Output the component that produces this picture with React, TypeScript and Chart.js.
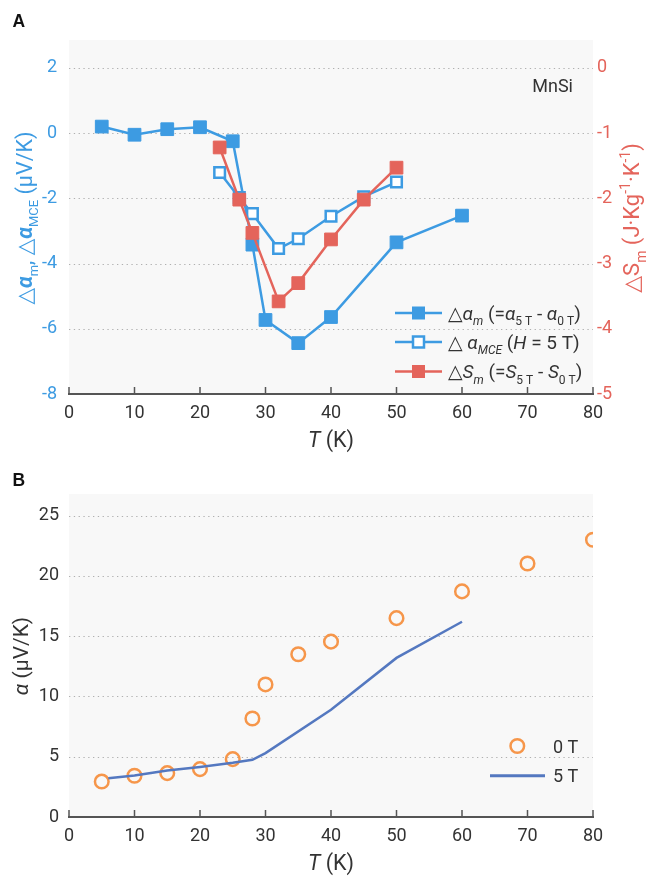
import React, { useEffect, useRef } from 'react';
import { Chart, registerables } from 'chart.js';
Chart.register(...registerables);

const FONT = 'Roboto, "DejaVu Sans", sans-serif';
const BLUE = '#3d9be2';
const RED = '#e4645b';
const ORANGE = '#f6964a';
const LINEB = '#5478c0';
const TXT = '#333333';
const BG = '#f8f8f8';

// ---- Panel A data ----
const amT = [5, 10, 15, 20, 25, 28, 30, 35, 40, 50, 60];
const amVal = [0.2, -0.05, 0.12, 0.18, -0.25, -3.42, -5.73, -6.44, -5.64, -3.35, -2.53];
const mceT = [23, 26, 28, 32, 35, 40, 45, 50];
const mceVal = [-1.21, -1.98, -2.47, -3.54, -3.24, -2.55, -1.95, -1.5];
const smT = [23, 26, 28, 32, 35, 40, 45, 50];
const smVal = [-1.22, -2.02, -2.53, -3.58, -3.3, -2.63, -2.02, -1.53];

const xTicks = [0, 10, 20, 30, 40, 50, 60, 70, 80];
const leftTicksA = [-8, -6, -4, -2, 0, 2];
const rightTicksA = [-5, -4, -3, -2, -1, 0];
const LEFT_MIN = -8;
const LEFT_MAX = 2.855;
const RIGHT_MIN = -5;
const RIGHT_MAX = RIGHT_MIN + (LEFT_MAX - LEFT_MIN) / 2;

// ---- Panel B data ----
const b0T = [5, 10, 15, 20, 25, 28, 30, 35, 40, 50, 60, 70, 80];
const b0Val = [2.94, 3.42, 3.64, 3.97, 4.8, 8.17, 11.0, 13.5, 14.55, 16.5, 18.72, 21.03, 23.0];
const b5T = [6, 10, 15, 20, 25, 28, 30, 40, 50, 60];
const b5Val = [3.22, 3.45, 3.85, 4.15, 4.5, 4.75, 5.3, 8.9, 13.2, 16.2];
const yTicksB = [0, 5, 10, 15, 20, 25];
const B_MAX = 26.8;

type Seg = { t: string; italic?: boolean; bold?: boolean; sub?: boolean; sup?: boolean };

function fontStr(s: Seg, size: number, family = FONT) {
  return `${s.italic ? 'italic ' : ''}${s.bold ? 'bold ' : ''}${size}px ${family}`;
}

function drawRich(ctx: CanvasRenderingContext2D, segs: Seg[], x: number, y: number, align: string, base: number, color: string) {
  const items = segs.map((s) => {
    const size = s.sub || s.sup ? Math.round(base * 0.62) : base;
    ctx.font = fontStr(s, size);
    return { s, size, w: ctx.measureText(s.t).width };
  });
  const total = items.reduce((a, b) => a + b.w, 0);
  let cx = align === 'center' ? x - total / 2 : align === 'right' ? x - total : x;
  ctx.fillStyle = color;
  ctx.textBaseline = 'alphabetic';
  ctx.textAlign = 'left';
  for (const it of items) {
    ctx.font = fontStr(it.s, it.size);
    const dy = it.s.sub ? base * 0.3 : it.s.sup ? -base * 0.42 : 0;
    ctx.fillText(it.s.t, cx, y + dy);
    cx += it.w;
  }
}

function drawRotated(ctx: CanvasRenderingContext2D, segs: Seg[], x: number, y: number, base: number, color: string) {
  ctx.save();
  ctx.translate(x, y);
  ctx.rotate(-Math.PI / 2);
  drawRich(ctx, segs, 0, 0, 'center', base, color);
  ctx.restore();
}

function drawGrid(chart: any, scaleId: string, ticks: number[]) {
  const { ctx, chartArea: a } = chart;
  const s = chart.scales[scaleId];
  ctx.save();
  ctx.strokeStyle = '#b0b0b0';
  ctx.lineWidth = 1.2;
  ctx.setLineDash([1.3, 3.5]);
  for (const v of ticks) {
    if (v === s.min) continue;
    const y = Math.round(s.getPixelForValue(v)) + 0.5;
    ctx.beginPath();
    ctx.moveTo(a.left, y);
    ctx.lineTo(a.right, y);
    ctx.stroke();
  }
  ctx.restore();
}

function drawXAxis(chart: any, ticks: number[]) {
  const { ctx, chartArea: a } = chart;
  const s = chart.scales.x;
  ctx.save();
  ctx.strokeStyle = '#555555';
  ctx.lineWidth = 2;
  ctx.beginPath();
  ctx.moveTo(a.left - 1, a.bottom);
  ctx.lineTo(a.right + 1, a.bottom);
  ctx.stroke();
  ctx.lineWidth = 1.5;
  for (const v of ticks) {
    const x = s.getPixelForValue(v);
    ctx.beginPath();
    ctx.moveTo(x, a.bottom);
    ctx.lineTo(x, a.bottom - 7);
    ctx.stroke();
  }
  ctx.restore();
}

function bgFill(chart: any) {
  const { ctx, chartArea: a } = chart;
  ctx.save();
  ctx.fillStyle = BG;
  ctx.fillRect(a.left, a.top, a.right - a.left, a.bottom - a.top);
  ctx.restore();
}

function panelLabel(ctx: CanvasRenderingContext2D, t: string, x: number, y: number) {
  ctx.save();
  ctx.font = 'bold 17.5px "Liberation Sans", Arial, sans-serif';
  ctx.fillStyle = '#111';
  ctx.textAlign = 'left';
  ctx.textBaseline = 'alphabetic';
  ctx.fillText(t, x, y);
  ctx.restore();
}

function tickSetter(arr: number[]) {
  return (s: any) => {
    s.ticks = arr.map((v) => ({ value: v }));
  };
}

const pluginA = {
  id: 'customA',
  beforeDraw(chart: any) {
    bgFill(chart);
  },
  beforeDatasetsDraw(chart: any) {
    drawGrid(chart, 'y', leftTicksA);
  },
  afterDraw(chart: any) {
    const ctx: CanvasRenderingContext2D = chart.ctx;
    const a = chart.chartArea;
    drawXAxis(chart, xTicks);
    drawRotated(ctx, [
      { t: '△' }, { t: 'α', italic: true, bold: true }, { t: 'm', sub: true }, { t: ', ' },
      { t: '△' }, { t: 'α', italic: true, bold: true }, { t: 'MCE', sub: true }, { t: ' (μV/K)' },
    ], 32, 218, 21.5, BLUE);
    drawRotated(ctx, [
      { t: '△' }, { t: 'S' }, { t: 'm', sub: true }, { t: ' (J·Kg' }, { t: '-1', sup: true },
      { t: '·K' }, { t: '-1', sup: true }, { t: ')' },
    ], 639, 218, 22, RED);
    drawRich(ctx, [{ t: 'T', italic: true }, { t: ' (K)' }], (a.left + a.right) / 2, 446.5, 'center', 21.5, TXT);
    ctx.save();
    ctx.font = `18px ${FONT}`;
    ctx.fillStyle = TXT;
    ctx.textAlign = 'right';
    ctx.textBaseline = 'alphabetic';
    ctx.fillText('MnSi', 573, 91.5);
    ctx.restore();
    // legend
    const rows: { y: number; color: string; open: boolean; segs: Seg[] }[] = [
      { y: 313, color: BLUE, open: false, segs: [
        { t: '△' }, { t: 'α', italic: true }, { t: 'm', sub: true, italic: true }, { t: ' (=' },
        { t: 'α', italic: true }, { t: '5 T', sub: true }, { t: ' - ' }, { t: 'α', italic: true }, { t: '0 T', sub: true }, { t: ')' },
      ] },
      { y: 342, color: BLUE, open: true, segs: [
        { t: '△ ' }, { t: 'α', italic: true }, { t: 'MCE', sub: true, italic: true }, { t: ' (' },
        { t: 'H', italic: true }, { t: ' = 5 T)' },
      ] },
      { y: 371.5, color: RED, open: false, segs: [
        { t: '△' }, { t: 'S', italic: true }, { t: 'm', sub: true, italic: true }, { t: ' (=' },
        { t: 'S', italic: true }, { t: '5 T', sub: true }, { t: ' - ' }, { t: 'S', italic: true }, { t: '0 T', sub: true }, { t: ')' },
      ] },
    ];
    for (const r of rows) {
      ctx.save();
      ctx.strokeStyle = r.color;
      ctx.lineWidth = 2.5;
      ctx.beginPath();
      ctx.moveTo(395, r.y);
      ctx.lineTo(442, r.y);
      ctx.stroke();
      if (r.open) {
        ctx.fillStyle = '#fff';
        ctx.fillRect(413, r.y - 5.5, 11, 11);
        ctx.strokeRect(413, r.y - 5.5, 11, 11);
      } else {
        ctx.fillStyle = r.color;
        ctx.fillRect(412, r.y - 6.5, 13, 13);
      }
      ctx.restore();
      drawRich(ctx, r.segs, 448, r.y + 6.5, 'left', 19, TXT);
    }
    panelLabel(ctx, 'A', 12.5, 27);
  },
};

const pluginB = {
  id: 'customB',
  beforeDraw(chart: any) {
    bgFill(chart);
  },
  beforeDatasetsDraw(chart: any) {
    drawGrid(chart, 'y', yTicksB);
  },
  afterDraw(chart: any) {
    const ctx: CanvasRenderingContext2D = chart.ctx;
    const a = chart.chartArea;
    drawXAxis(chart, xTicks);
    drawRotated(ctx, [{ t: 'α', italic: true }, { t: ' (μV/K)' }], 28, 196, 21, TXT);
    drawRich(ctx, [{ t: 'T', italic: true }, { t: ' (K)' }], (a.left + a.right) / 2, 409.5, 'center', 21.5, TXT);
    ctx.save();
    ctx.strokeStyle = ORANGE;
    ctx.lineWidth = 2.5;
    ctx.beginPath();
    ctx.arc(517.3, 286, 6.8, 0, Math.PI * 2);
    ctx.stroke();
    ctx.strokeStyle = LINEB;
    ctx.lineWidth = 3;
    ctx.beginPath();
    ctx.moveTo(490, 315.7);
    ctx.lineTo(545, 315.7);
    ctx.stroke();
    ctx.font = `18px ${FONT}`;
    ctx.fillStyle = TXT;
    ctx.textAlign = 'left';
    ctx.textBaseline = 'alphabetic';
    ctx.fillText('0 T', 553, 292.5);
    ctx.fillText('5 T', 553, 322);
    ctx.restore();
    panelLabel(ctx, 'B', 12.5, 25.5);
  },
};

const tickFont = { size: 18, family: FONT };

function configA(): any {
  return {
    type: 'line',
    data: {
      datasets: [
        {
          label: 'Sm', yAxisID: 'y2', order: 0,
          data: smT.map((t, i) => ({ x: t, y: smVal[i] })),
          borderColor: RED, backgroundColor: RED, borderWidth: 2.5,
          pointStyle: 'rect', pointRadius: 9, pointBackgroundColor: RED, pointBorderColor: RED, pointBorderWidth: 1,
        },
        {
          label: 'am', yAxisID: 'y', order: 1,
          data: amT.map((t, i) => ({ x: t, y: amVal[i] })),
          borderColor: BLUE, backgroundColor: BLUE, borderWidth: 2.5,
          pointStyle: 'rect', pointRadius: 9, pointBackgroundColor: BLUE, pointBorderColor: BLUE, pointBorderWidth: 1,
        },
        {
          label: 'mce', yAxisID: 'y', order: 2,
          data: mceT.map((t, i) => ({ x: t, y: mceVal[i] })),
          borderColor: BLUE, backgroundColor: '#fff', borderWidth: 2.5,
          pointStyle: 'rect', pointRadius: 7.5, pointBackgroundColor: '#ffffff', pointBorderColor: BLUE, pointBorderWidth: 2.5,
        },
      ],
    },
    options: {
      responsive: false, animation: false, devicePixelRatio: 1,
      layout: { padding: { top: 40, left: 0, right: 0, bottom: 0 } },
      plugins: { legend: { display: false }, tooltip: { enabled: false } },
      elements: { line: { tension: 0 } },
      scales: {
        x: {
          type: 'linear', min: 0, max: 80,
          afterBuildTicks: tickSetter(xTicks),
          afterFit: (s: any) => { s.height = 66; },
          grid: { display: false, drawTicks: false }, border: { display: false },
          ticks: { color: TXT, font: tickFont, padding: 9, maxRotation: 0, autoSkip: false },
        },
        y: {
          type: 'linear', position: 'left', min: LEFT_MIN, max: LEFT_MAX,
          afterBuildTicks: tickSetter(leftTicksA),
          afterFit: (s: any) => { s.width = 69; },
          grid: { display: false, drawTicks: false }, border: { display: false },
          ticks: { color: BLUE, font: tickFont, padding: 12, autoSkip: false },
        },
        y2: {
          type: 'linear', position: 'right', min: RIGHT_MIN, max: RIGHT_MAX,
          afterBuildTicks: tickSetter(rightTicksA),
          afterFit: (s: any) => { s.width = 53; },
          grid: { display: false, drawTicks: false }, border: { display: false },
          ticks: { color: RED, font: tickFont, padding: 4, autoSkip: false },
        },
      },
    },
    plugins: [pluginA],
  };
}

function configB(): any {
  return {
    type: 'line',
    data: {
      datasets: [
        {
          label: '0 T', order: 1,
          data: b0T.map((t, i) => ({ x: t, y: b0Val[i] })),
          showLine: false, borderColor: ORANGE, backgroundColor: 'rgba(0,0,0,0)',
          pointStyle: 'circle', pointRadius: 6.8, pointBorderWidth: 2.5,
          pointBorderColor: ORANGE, pointBackgroundColor: 'rgba(0,0,0,0)',
        },
        {
          label: '5 T', order: 0,
          data: b5T.map((t, i) => ({ x: t, y: b5Val[i] })),
          borderColor: LINEB, borderWidth: 2.5, pointRadius: 0, fill: false,
        },
      ],
    },
    options: {
      responsive: false, animation: false, devicePixelRatio: 1,
      layout: { padding: { top: 34, left: 0, right: 53, bottom: 0 } },
      plugins: { legend: { display: false }, tooltip: { enabled: false } },
      elements: { line: { tension: 0 } },
      scales: {
        x: {
          type: 'linear', min: 0, max: 80,
          afterBuildTicks: tickSetter(xTicks),
          afterFit: (s: any) => { s.height = 59; },
          grid: { display: false, drawTicks: false }, border: { display: false },
          ticks: { color: TXT, font: tickFont, padding: 9, maxRotation: 0, autoSkip: false },
        },
        y: {
          type: 'linear', position: 'left', min: 0, max: B_MAX,
          afterBuildTicks: tickSetter(yTicksB),
          afterFit: (s: any) => { s.width = 69; },
          grid: { display: false, drawTicks: false }, border: { display: false },
          ticks: { color: TXT, font: tickFont, padding: 10, autoSkip: false },
        },
      },
    },
    plugins: [pluginB],
  };
}

export default function App() {
  const refA = useRef<HTMLCanvasElement>(null);
  const refB = useRef<HTMLCanvasElement>(null);
  useEffect(() => {
    const ca = new Chart(refA.current as HTMLCanvasElement, configA());
    const cb = new Chart(refB.current as HTMLCanvasElement, configB());
    return () => {
      ca.destroy();
      cb.destroy();
    };
  }, []);
  return (
    <div style={{ position: 'fixed', left: 0, top: 0, width: 646, height: 876, background: '#fff' }}>
      <canvas ref={refA} width={646} height={460} style={{ position: 'absolute', left: 0, top: 0, width: 646, height: 460 }} />
      <canvas ref={refB} width={646} height={416} style={{ position: 'absolute', left: 0, top: 460, width: 646, height: 416 }} />
    </div>
  );
}
